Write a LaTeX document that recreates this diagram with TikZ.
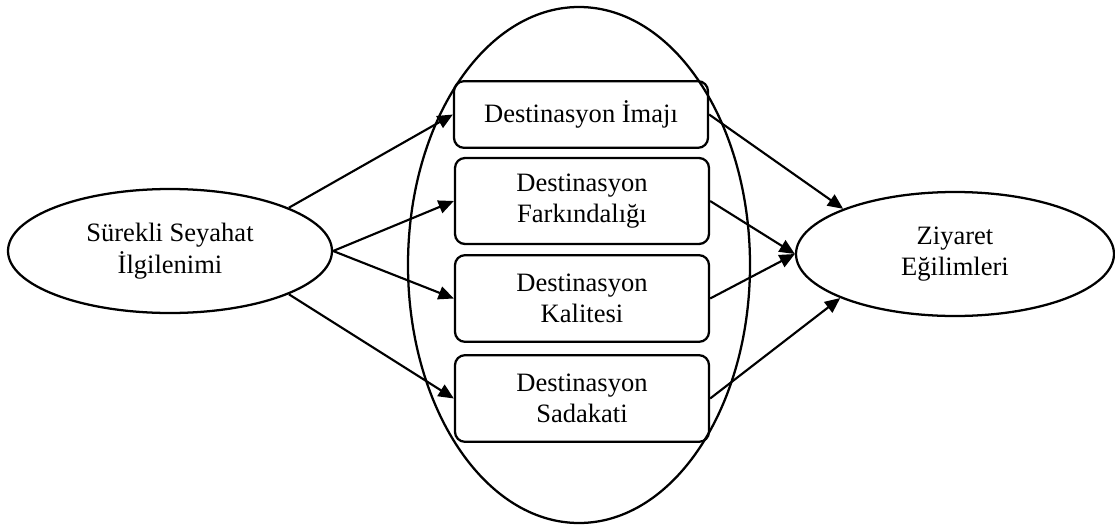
\documentclass[tikz,border=0pt]{standalone}
\usepackage{fontspec}
\setmainfont{Liberation Serif}
\usetikzlibrary{shapes.geometric,arrows.meta}
\begin{document}
\begin{tikzpicture}[x=0.75pt,y=-0.75pt,
  every node/.style={font=\fontsize{19.9}{23.5}\selectfont, align=center, inner sep=0pt},
  oval/.style={draw, ellipse, line width=1.7pt},
  varbox/.style={draw, rounded corners=7.5pt, line width=1.7pt, minimum width=190.5pt},
  link/.style={line width=1.6pt, -{Triangle[length=11.5pt,width=10pt]}}]
\useasboundingbox (0,0) rectangle (1115,525);

% central group
\node[oval, minimum width=256.5pt, minimum height=387pt] (G) at (579,265) {};

% constructs
\node[oval, minimum width=243pt, minimum height=93pt] (L) at (170,251) {Sürekli Seyahat\\İlgilenimi};
\node[oval, minimum width=238.5pt, minimum height=93pt] (R) at (955,254) {Ziyaret\\Eğilimleri};

\node[varbox, minimum height=50pt] (B1) at (581,114.5) {Destinasyon İmajı};
\node[varbox, minimum height=64.5pt] (B2) at (582,201) {Destinasyon\\Farkındalığı};
\node[varbox, minimum height=65pt] (B3) at (582,298.5) {Destinasyon\\Kalitesi};
\node[varbox, minimum height=65pt] (B4) at (582,398.5) {Destinasyon\\Sadakati};

% paths into the group
\draw[link] (L.20.5) -- (B1.west);
\draw[link] (L.east) -- (B2.west);
\draw[link] (L.east) -- (B3.west);
\draw[link] (L.-20.5) -- (B4.west);

% paths out of the group
\draw[link] (B1.east) -- (R.158.6);
\draw[link] (B2.east) -- (R.west);
\draw[link] (B3.east) -- (R.west);
\draw[link] (B4.east) -- (R.201.4);
\end{tikzpicture}
\end{document}
